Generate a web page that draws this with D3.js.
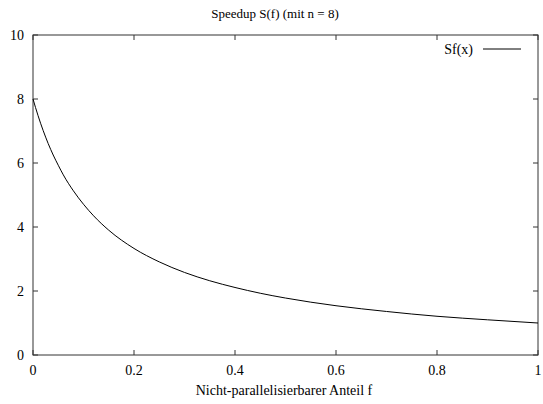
<!DOCTYPE html>
<html><head><meta charset="utf-8">
<script src="https://cdn.jsdelivr.net/npm/d3@7"></script>
<style>body{margin:0;background:#fff}</style>
</head><body>
<svg id="c" width="543" height="404" font-family="'Liberation Serif', 'DejaVu Serif', serif" font-size="14"></svg>
<script>
const fValues = [0,0.01,0.02,0.03,0.04,0.05,0.06,0.08,0.1,0.12,0.15,0.2,0.25,0.3,0.35,0.4,0.45,0.5,0.6,0.7,0.8,0.9,1.0];
const speedup = [8,7.48,7.02,6.61,6.25,5.93,5.63,5.13,4.71,4.35,3.90,3.33,2.91,2.58,2.32,2.11,1.93,1.78,1.54,1.36,1.21,1.10,1.0];
const xTicks = [0,0.2,0.4,0.6,0.8,1];
const yTicks = [0,2,4,6,8,10];
const title = "Speedup S(f) (mit n = 8)";
const xLabel = "Nicht-parallelisierbarer Anteil f";
const legendLabel = "Sf(x)";

const svg = d3.select("#c");
const L=33,R=538,T=35,B=355;
const x = d3.scaleLinear().domain([0,1]).range([L,R]);
const y = d3.scaleLinear().domain([0,10]).range([B,T]);
const ax="#333";
const tl=5;
xTicks.forEach(t=>{
  svg.append("line").attr("x1",x(t)).attr("x2",x(t)).attr("y1",B).attr("y2",B-tl).attr("stroke",ax);
  svg.append("line").attr("x1",x(t)).attr("x2",x(t)).attr("y1",T).attr("y2",T+tl).attr("stroke",ax);
  svg.append("text").attr("x",x(t)).attr("y",B+20).attr("text-anchor","middle").text(t);
});
yTicks.forEach(t=>{
  svg.append("line").attr("x1",L).attr("x2",L+tl).attr("y1",y(t)).attr("y2",y(t)).attr("stroke",ax);
  svg.append("line").attr("x1",R).attr("x2",R-tl).attr("y1",y(t)).attr("y2",y(t)).attr("stroke",ax);
  svg.append("text").attr("x",L-9).attr("y",y(t)+5).attr("text-anchor","end").text(t);
});
svg.append("rect").attr("x",L).attr("y",T).attr("width",R-L).attr("height",B-T).attr("fill","none").attr("stroke",ax);
svg.append("text").attr("x",275).attr("y",18).attr("text-anchor","middle").attr("font-size",13).text(title);
svg.append("text").attr("x",284).attr("y",395).attr("text-anchor","middle").text(xLabel);
const data = fValues.map((f,i)=>[f,speedup[i]]);
svg.append("path").datum(data).attr("fill","none").attr("stroke","#000").attr("stroke-width",1)
  .attr("d",d3.line().x(d=>x(d[0])).y(d=>y(d[1])).curve(d3.curveMonotoneX));
svg.append("text").attr("x",473).attr("y",54).attr("text-anchor","end").text(legendLabel);
svg.append("line").attr("x1",483).attr("x2",521).attr("y1",49).attr("y2",49).attr("stroke","#000");
</script>
</body></html>
